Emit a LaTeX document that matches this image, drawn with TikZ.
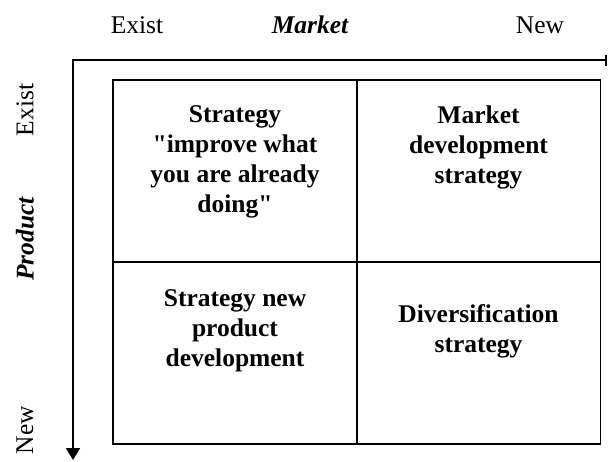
\documentclass[tikz,border=0pt]{standalone}
\usepackage{fontspec}
\setmainfont{Liberation Serif}[Ligatures=TeXOff]
\usetikzlibrary{arrows.meta}
\begin{document}
\begin{tikzpicture}[x=1pt,y=-1pt,
  lbl/.style={font=\fontsize{25.5}{30}\selectfont, inner sep=0pt},
  axlbl/.style={font=\fontsize{25.5}{30}\selectfont\bfseries\itshape, inner sep=0pt},
  celltxt/.style={font=\fontsize{25.5}{30}\selectfont\bfseries, align=center, inner sep=0pt},
  cell/.style={draw=black, line width=1.8pt, minimum width=244pt, minimum height=182pt, inner sep=0pt},
  axis/.style={line width=1.8pt, {Bar[width=11pt,line width=1.8pt]}-{Triangle[width=14pt,length=12pt]}}
]
\useasboundingbox (0,0) rectangle (609,461);

% axes
\coordinate (xend) at (607,60);
\coordinate (orig) at (73,60);
\coordinate (yend) at (73,460);
\draw[axis] (xend) -- (orig) -- (yend);

% axis labels
\node[lbl, anchor=base] (mexist) at (137,33) {Exist};
\node[axlbl, anchor=base] (mtitle) at (310,33) {Market};
\node[lbl, anchor=base] (mnew) at (540,33) {New};
\node[lbl, rotate=90] (pexist) at (25,110) {Exist};
\node[axlbl, rotate=90] (ptitle) at (25,239) {Product};
\node[lbl, rotate=90] (pnew) at (25,430) {New};

% matrix cells
\node[cell] (c11) at (235,171) {};
\node[cell] (c12) at (478.5,171) {};
\node[cell] (c21) at (235,353) {};
\node[cell] (c22) at (478.5,353) {};

% cell texts
\node[celltxt] (t11) at (235,162) {Strategy\\"improve what\\you are already\\doing"};
\node[celltxt] (t12) at (478.5,147) {Market\\development\\strategy};
\node[celltxt] (t21) at (235,331) {Strategy new\\product\\development};
\node[celltxt] (t22) at (478.5,331) {Diversification\\strategy};
\end{tikzpicture}
\end{document}
